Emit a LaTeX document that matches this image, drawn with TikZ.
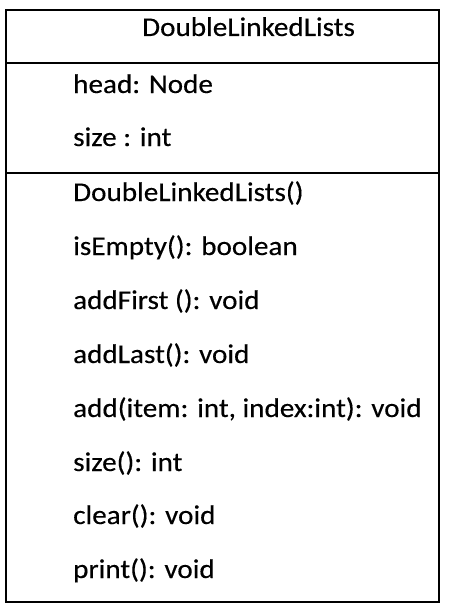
\documentclass[tikz,border=0pt]{standalone}
\usepackage{fontspec}
\setmainfont[FakeStretch=1.08,FakeBold=0.3]{Carlito}
\begin{document}
\begin{tikzpicture}[x=1pt,y=-1pt,
  frame/.style={draw=black,line width=2pt},
  member/.style={anchor=base west,inner sep=0pt,font=\fontsize{27}{32}\selectfont}]
\useasboundingbox (0,0) rectangle (448,610);
% class box with its three compartments
\draw[frame] (5.5,10) rectangle (438.5,602) coordinate (boxbr);
\draw[frame] (5.5,63.5) coordinate (sepA) -- (438.5,63.5);
\draw[frame] (5.5,172.5) coordinate (sepB) -- (438.5,172.5);
% class name
\node[member] (title) at (142,36) {DoubleLinkedLists};
% attributes
\node[member] (head) at (73,93) {head: Node};
\node[member] (size) at (73,146) {size : int};
% operations
\node[member] (ctor) at (73,201) {DoubleLinkedLists()};
\node[member] (empty) at (73,255) {isEmpty(): boolean};
\node[member] (first) at (73,309) {addFirst (): void};
\node[member] (last) at (73,363) {addLast(): void};
\node[member] (add) at (73,417) {add(item: int, index:int): void};
\node[member] (sizem) at (73,471) {size(): int};
\node[member] (clear) at (73,524) {clear(): void};
\node[member] (print) at (73,578) {print(): void};
\end{tikzpicture}
\end{document}
